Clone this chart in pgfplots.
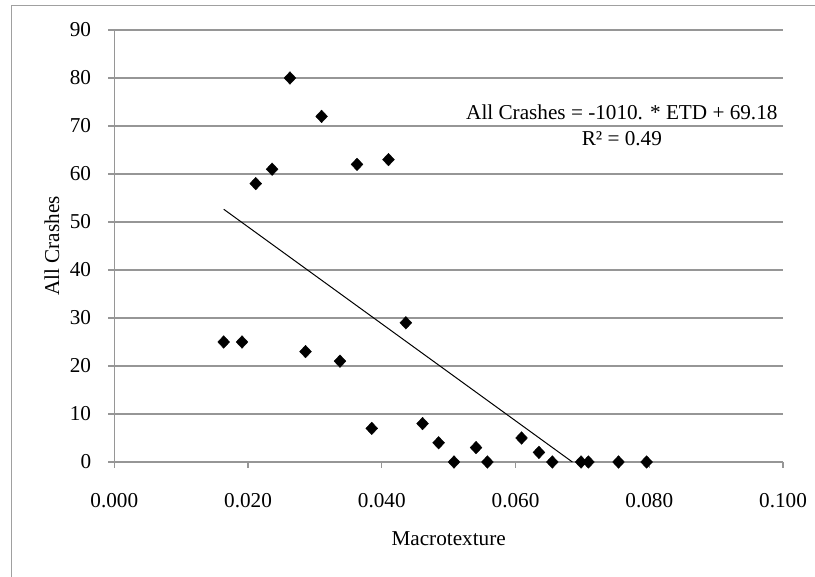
\documentclass[border=0pt]{standalone}
\usepackage{fontspec}
\setmainfont{Liberation Serif}
\usepackage{pgfplots}
\pgfplotsset{compat=1.18}

\definecolor{gridgray}{RGB}{150,150,150}
\definecolor{framegray}{RGB}{160,160,160}

\pgfplotstableread{
x       y
0.01636 25
0.0191  25
0.02115 58
0.0236  61
0.02627 80
0.0286  23
0.0310  72
0.03375 21
0.0363  62
0.0385  7
0.0410  63
0.0436  29
0.0461  8
0.0485  4
0.0508  0
0.0541  3
0.0558  0
0.0609  5
0.0635  2
0.0655  0
0.0698  0
0.0709  0
0.0754  0
0.0796  0
}\crashdata

\begin{document}
\begin{tikzpicture}
\path[use as bounding box] (0,0) rectangle (815pt,577pt);
\draw[framegray, line width=1pt] (11pt,0) -- (11pt,571.5pt) -- (815pt,571.5pt);

\begin{axis}[
  at={(114.3pt,115pt)}, anchor=south west,
  scale only axis,
  width=668.7pt, height=432pt,
  xmin=0, xmax=0.1, ymin=0, ymax=90,
  xtick={0,0.02,0.04,0.06,0.08,0.1},
  ytick={0,10,...,90},
  axis x line*=bottom, axis y line*=left,
  axis line style={gridgray, line width=1.3pt, -},
  tick align=outside,
  major tick length=6pt,
  tick style={gridgray, line width=1.3pt},
  ymajorgrids=true,
  major grid style={gridgray, line width=1.3pt},
  font=\fontsize{21.2}{25}\selectfont,
  tick label style={font=\fontsize{21.2}{25}\selectfont, inner sep=0pt},
  xticklabel style={anchor=north, yshift=-25pt, /pgf/number format/.cd, fixed, fixed zerofill, precision=3, assume math mode=true},
  yticklabel style={anchor=east, xshift=-17pt, /pgf/number format/.cd, fixed, precision=0, assume math mode=true},
  xlabel={Macrotexture},
  ylabel={All Crashes},
  xlabel style={at={(axis description cs:0.5,-0.1785)}, anchor=center},
  ylabel style={at={(axis description cs:-0.0932,0.5)}, anchor=center},
  clip=false,
]
\addplot[black, line width=1pt] coordinates {(0.01636,52.66) (0.0685,0)};
\addplot[only marks, mark=diamond*, mark size=6.3pt, mark options={black, fill=black, xscale=1.25}] table[x=x, y=y] {\crashdata};
\node[anchor=base, font=\fontsize{21.2}{25}\selectfont] at (axis cs:0.0759,71.25) {All Crashes = -1010. * ETD + 69.18};
\node[anchor=base, font=\fontsize{21.2}{25}\selectfont] at (axis cs:0.0759,66.04) {R² = 0.49};
\end{axis}
\end{tikzpicture}
\end{document}
